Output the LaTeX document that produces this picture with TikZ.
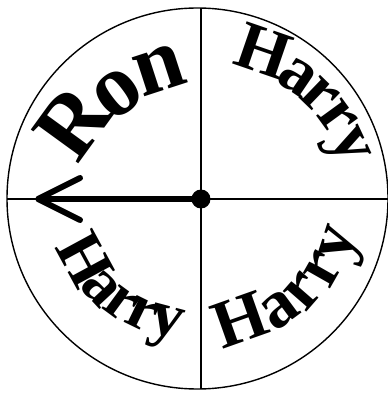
\documentclass[tikz,border=0pt]{standalone}
\usepackage{fontspec}
\newfontfamily\spinfont{Liberation Serif}
\usetikzlibrary{calc}
\begin{document}
\begin{tikzpicture}[x=1pt,y=1pt,
  rim/.style={line width=1.4pt},
  glyph/.style={anchor=base, inner sep=0pt, outer sep=0pt},
  ronlet/.style={glyph, font=\spinfont\bfseries\fontsize{89}{89}\selectfont},
  harlet/.style={glyph, font=\spinfont\bfseries\fontsize{68}{68}\selectfont},
  harlow/.style={glyph, font=\spinfont\bfseries\fontsize{65}{65}\selectfont}]
\useasboundingbox[fill=white] (0,0) rectangle (388,394);
\coordinate (C) at (197.5,195.5);
\coordinate (D) at (201,195);
\coordinate (tip) at (38,195);
\coordinate (armA) at (80,216);
\coordinate (armB) at (80,174);
% rim and cross
\draw[rim] (C) circle (190.5);
\begin{scope}
\clip (C) circle (190.5);
\draw[rim] (0,195) -- (388,195);
\draw[rim] (201,0) -- (201,394);
\end{scope}
% Ron (upper left, tops outward)
\node[ronlet, rotate=54] (r1) at ($(C)+(150:117)$) {R};
\node[ronlet, rotate=37] (r2) at ($(C)+(127.5:111)$) {o};
\node[ronlet, rotate=18] (r3) at ($(C)+(106:113)$) {n};
% Harry (upper right, tops outward)
\node[harlet, rotate=-19] (a1) at ($(C)+(65:140)$) {H};
\node[harlet, rotate=-34] (a2) at ($(C)+(50:142)$) {a};
\node[harlet, rotate=-44] (a3) at ($(C)+(39.5:144)$) {r};
\node[harlet, rotate=-54] (a4) at ($(C)+(29.5:146)$) {r};
\node[harlet, rotate=-65] (a5) at ($(C)+(18.5:147)$) {y};
% Harry (lower right, tops inward)
\node[harlet, rotate=19.5] (b1) at ($(C)+(-70.5:151)$) {H};
\node[harlet, rotate=36.5] (b2) at ($(C)+(-53.5:154)$) {a};
\node[harlet, rotate=48.9] (b3) at ($(C)+(-41.1:157)$) {r};
\node[harlet, rotate=60.4] (b4) at ($(C)+(-29.6:160)$) {r};
\node[harlet, rotate=72.3] (b5) at ($(C)+(-17.7:163)$) {y};
% Harry (lower left, tops inward)
\node[harlow, rotate=298.5] (c1) at ($(C)+(208.5:149)$) {H};
\node[harlow, rotate=312.9] (c2) at ($(C)+(223:147)$) {a};
\node[harlow, rotate=323.7] (c3) at ($(C)+(234:145)$) {r};
\node[harlow, rotate=334] (c4) at ($(C)+(244.5:143)$) {r};
\node[harlow, rotate=345.2] (c5) at ($(C)+(256:141)$) {y};
% pointer
\draw[line width=6.5pt] (D) -- (tip);
\draw[line width=6pt, line cap=round, line join=round] (armA) -- (tip) -- (armB);
\fill (D) circle (9.5);
\end{tikzpicture}
\end{document}
